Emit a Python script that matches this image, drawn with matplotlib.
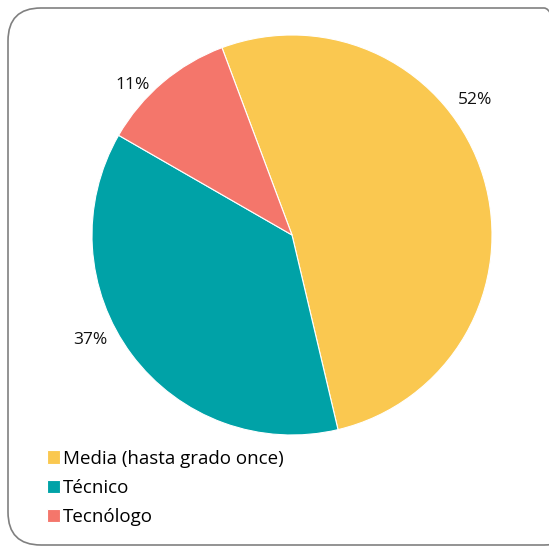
import matplotlib.pyplot as plt
from matplotlib.patches import FancyBboxPatch

labels = ['Media (hasta grado once)', 'Técnico', 'Tecnólogo']
values = [52, 37, 11]
colors = ['#FAC850', '#00A2A7', '#F4766B']

# where the percent labels sit, in pie radius units
label_pos = [(0.915, 0.675), (-1.01, -0.525), (-0.795, 0.75)]

W, H = 549, 549
fig = plt.figure(figsize=(W / 100, H / 100), dpi=100)
plt.rcParams['font.family'] = ['Open Sans', 'DejaVu Sans']

# rounded grey border
border = FancyBboxPatch((8 / W, 4 / H), (W + 20) / W, (H - 8 - 4) / H,
                        boxstyle='round,pad=0,rounding_size=0.06',
                        transform=fig.transFigure, facecolor='none',
                        edgecolor='#808080', linewidth=1.2, zorder=-1)
fig.patches.append(border)

ax = fig.add_axes([92 / W, (H - 435) / H, 400 / W, 400 / H])
wedges, texts, autotexts = ax.pie(values, colors=colors, startangle=110.5,
                                  counterclock=False, autopct='%1.0f%%',
                                  wedgeprops={'linewidth': 0.8, 'edgecolor': 'white'},
                                  textprops={'fontsize': 12.5, 'color': '#111111'})
for t, pos in zip(autotexts, label_pos):
    t.set_position(pos)
ax.set_xlim(-1, 1)
ax.set_ylim(-1, 1)
ax.set_aspect('equal')

fig.legend(wedges, labels, loc='upper left', bbox_to_anchor=(39 / W, 1 - 442 / H),
           frameon=False, fontsize=13.5, handlelength=0.72, handleheight=0.72,
           handletextpad=0.15, labelspacing=0.6, borderaxespad=0)

fig.savefig('out.png', dpi=100)
